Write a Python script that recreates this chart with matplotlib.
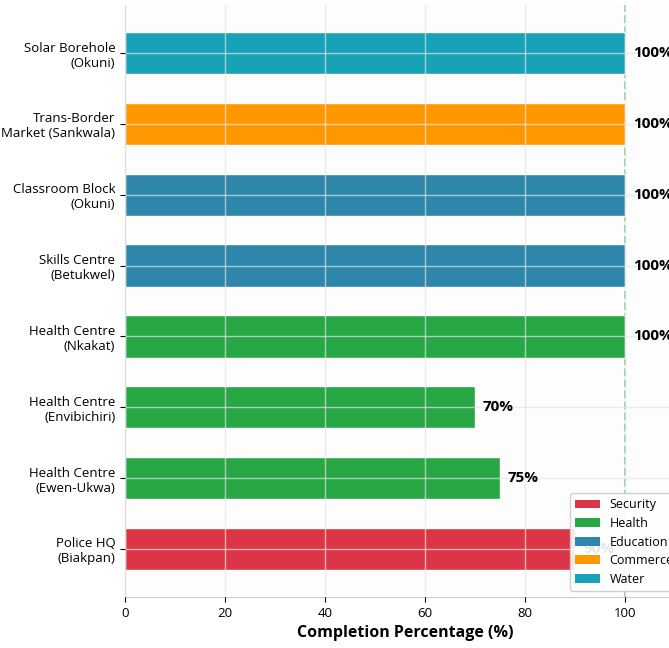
import matplotlib
matplotlib.use("Agg")
import matplotlib.pyplot as plt
from matplotlib.patches import Patch

plt.rcParams['font.family'] = ['Open Sans', 'DejaVu Sans']

projects = [
    "Police HQ\n(Biakpan)",
    "Health Centre\n(Ewen-Ukwa)",
    "Health Centre\n(Envibichiri)",
    "Health Centre\n(Nkakat)",
    "Skills Centre\n(Betukwel)",
    "Classroom Block\n(Okuni)",
    "Trans-Border\nMarket (Sankwala)",
    "Solar Borehole\n(Okuni)",
]
sectors = ["Security", "Health", "Health", "Health",
           "Education", "Education", "Commerce", "Water"]
completion = [90, 75, 70, 100, 100, 100, 100, 100]

sector_names = ["Security", "Health", "Education", "Commerce", "Water"]
sector_colors = {
    "Security": "#dc3545",
    "Health": "#28a745",
    "Education": "#2e86ab",
    "Commerce": "#ff9800",
    "Water": "#17a2b8",
}

fig = plt.figure(figsize=(6.69, 6.48), dpi=100)
ax = fig.add_axes([125 / 669, 51 / 648, 560 / 669, 592 / 648])
ax.set_facecolor("#fdfdfd")

ypos = list(range(len(projects)))
bars = ax.barh(ypos, completion, height=0.6,
               color=[sector_colors[s] for s in sectors],
               edgecolor="white", linewidth=1, zorder=2)

ax.axvline(100, color="#8fd4a0", linestyle="--", linewidth=1.5, zorder=1)

for y, v in zip(ypos, completion):
    ax.text(v + 1.6, y, f"{v}%", va="center", ha="left",
            fontsize=11, fontweight="bold", zorder=4)

ax.set_yticks(ypos)
ax.set_yticklabels(projects, fontsize=9.5)
ax.set_xlim(0, 112)
ax.set_xticks([0, 20, 40, 60, 80, 100])
ax.tick_params(axis="x", labelsize=9.5)
ax.set_xlabel("Completion Percentage (%)", fontsize=11.5, fontweight="bold")

ax.grid(True, color="#e4e4e4", linewidth=1, alpha=0.7, zorder=3)
ax.set_axisbelow(False)

for side in ["top", "right"]:
    ax.spines[side].set_visible(False)
for side in ["left", "bottom"]:
    ax.spines[side].set_color("#cccccc")

handles = [Patch(facecolor=sector_colors[s], label=s) for s in sector_names]
leg = ax.legend(handles=handles, loc="lower right", fontsize=9,
                framealpha=0.9, edgecolor="#cccccc", labelspacing=0.45)
leg.set_zorder(5)

fig.savefig("out.png", dpi=100)
